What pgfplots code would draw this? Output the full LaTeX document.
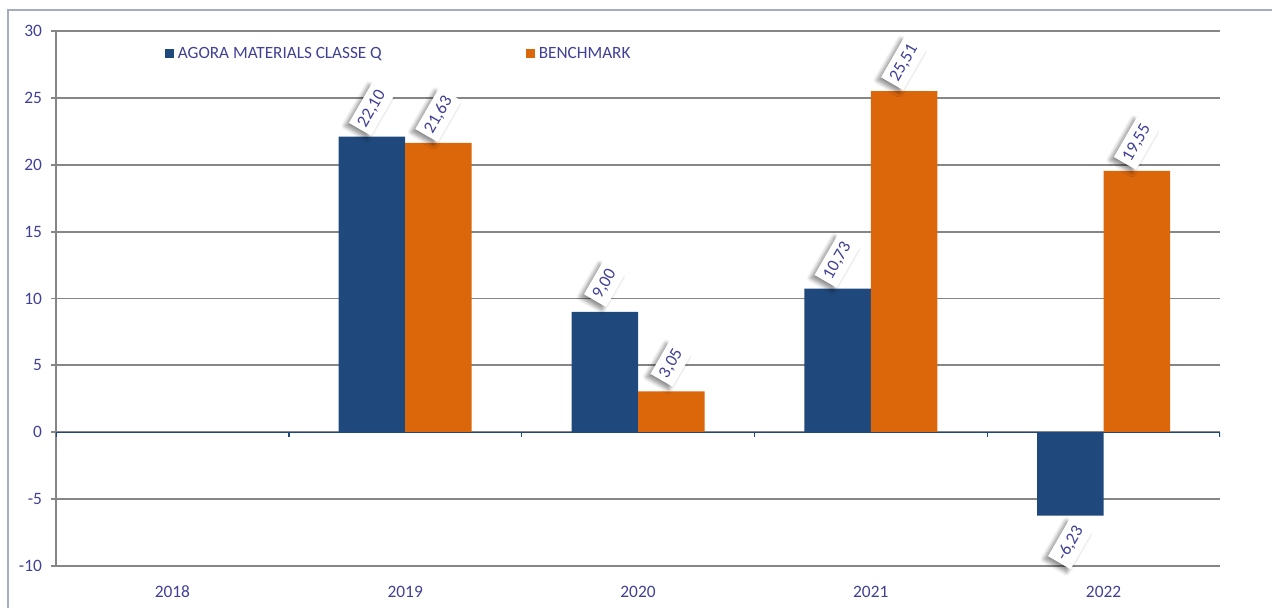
\documentclass[border=0pt]{standalone}
\usepackage{pgfplots}
\pgfplotsset{compat=1.18}
\usepackage{fontspec}
\setmainfont{Carlito}
\usetikzlibrary{shadows,shadows.blur}
\definecolor{txt}{RGB}{64,64,150}
\definecolor{bblue}{RGB}{31,73,125}
\definecolor{borange}{RGB}{220,102,10}
\definecolor{gridg}{RGB}{134,134,134}
\definecolor{frameg}{RGB}{165,172,190}
\begin{document}
\begin{tikzpicture}
\begin{axis}[
  at={(0,0)}, anchor=south west,
  scale only axis, width=582pt, height=267.5pt,
  xmin=-0.5, xmax=4.5, ymin=-10, ymax=30,
  ytick={-10,-5,...,30},
  xtick={0,1,2,3,4},
  xticklabels={2018,2019,2020,2021,2022},
  separate axis lines,
  axis y line*=left, axis x line*=bottom,
  x axis line style={draw=none},
  y axis line style={draw=gridg, line width=0.9pt},
  ymajorgrids, grid style={draw=gridg, line width=0.9pt},
  ytick style={draw=gridg, line width=0.9pt},
  tick align=outside, major tick length=2.5pt,
  xtick style={draw=none},
  ticklabel style={font=\fontsize{8.7}{10}\selectfont, text=txt},
  xticklabel style={yshift=-4pt},
  yticklabel style={xshift=-1pt},
  /pgf/number format/assume math mode=true,
  ybar=0pt, bar width=33.25pt,
  legend style={at={(rel axis cs:0.088,0.957)}, anchor=west, draw=none, fill=none,
    font=\fontsize{8.6}{10}\selectfont, text=txt,
    /tikz/every even column/.append style={column sep=70pt}},
  legend columns=2,
  legend image code/.code={\fill[#1] (0pt,-2.25pt) rectangle (4.5pt,2.25pt);},
  visualization depends on={rawy \as \rawy},
  nodes near coords={\pgfmathprintnumber[fixed, fixed zerofill, precision=2, use comma, assume math mode=true]{\pgfplotspointmeta}},
  every node near coord/.append code={%
    \ifdim\rawy pt<0pt\relax\pgfkeysalso{/tikz/yshift=-14pt}\else\pgfkeysalso{/tikz/yshift=14pt}\fi
    \pgfkeysalso{/tikz/rotate=60,/tikz/anchor=center,/tikz/fill=white,/tikz/inner xsep=2pt,/tikz/inner ysep=3pt,
      /tikz/text=txt,/tikz/font=\fontsize{8.7}{10}\selectfont,
      /tikz/blur shadow={shadow xshift=-2pt, shadow yshift=-1.5pt, shadow blur steps=6, shadow blur radius=2pt, shadow opacity=45}}},
]
\addplot[fill=bblue, draw=none] coordinates {(1,22.10) (2,9.00) (3,10.73) (4,-6.23)};
\addlegendentry{AGORA MATERIALS CLASSE Q}
\addplot[fill=borange, draw=none] coordinates {(1,21.63) (2,3.05) (3,25.51) (4,19.55)};
\addlegendentry{BENCHMARK}
\draw[bblue, line width=0.7pt] (axis cs:-0.5,0) -- (axis cs:4.5,0);
\pgfplotsinvokeforeach{-0.5,0.5,1.5,2.5,3.5,4.5}{\draw[bblue, line width=0.7pt] (axis cs:#1,0) -- ([yshift=-2.5pt]axis cs:#1,0);}
\end{axis}
\draw[frameg, line width=0.8pt] (-24pt,-40pt) -- (-24pt,278pt) -- (650pt,278pt);
\pgfresetboundingbox
\path[use as bounding box] (-28pt,-21pt) rectangle (608pt,283pt);
\end{tikzpicture}
\end{document}
